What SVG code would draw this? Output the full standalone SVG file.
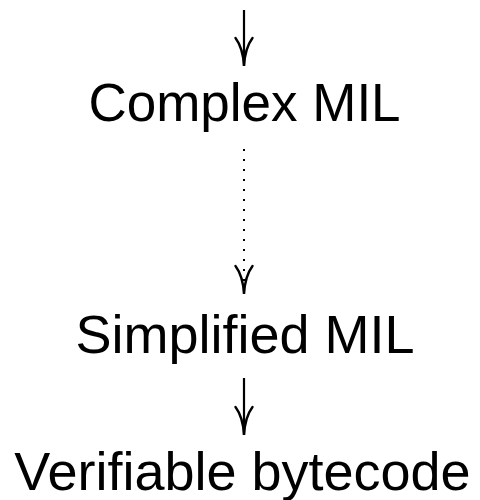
<svg xmlns="http://www.w3.org/2000/svg" width="480" height="500" viewBox="0 0 480 500">
  <style>
    .label { font-family: "Liberation Sans", Arial, sans-serif; font-size: 54px; fill: #000; text-anchor: middle; }
    .shaft { stroke: #000; stroke-width: 2.2; fill: none; }
    .dotted { stroke: #000; stroke-width: 2; fill: none; stroke-dasharray: 2 8; }
    .head { stroke: #000; stroke-width: 2.4; fill: none; stroke-linecap: round; }
  </style>
  <rect width="480" height="500" fill="#fff"/>
  <g id="connectors">
    <!-- entry arrow into Complex MIL -->
    <line class="shaft" x1="244" y1="10" x2="244" y2="66"/>
    <path class="head" d="M235.5,38 Q243,48 244,66 Q245,48 252.5,38"/>
    <!-- dotted arrow: Complex MIL to Simplified MIL -->
    <line class="dotted" x1="244" y1="149" x2="244" y2="290"/>
    <path class="head" d="M235.5,266 Q243,276 244,294 Q245,276 252.5,266"/>
    <!-- Simplified MIL to Verifiable bytecode -->
    <line class="shaft" x1="244" y1="378" x2="244" y2="435"/>
    <path class="head" d="M235.5,407 Q243,417 244,435 Q245,417 252.5,407"/>
  </g>
  <g id="complex-mil">
    <text class="label" x="244.5" y="121" style="font-size:53px">Complex MIL</text>
  </g>
  <g id="simplified-mil">
    <text class="label" x="245" y="353">Simplified MIL</text>
  </g>
  <g id="verifiable-bytecode">
    <text class="label" x="242.5" y="490">Verifiable bytecode</text>
  </g>
</svg>
